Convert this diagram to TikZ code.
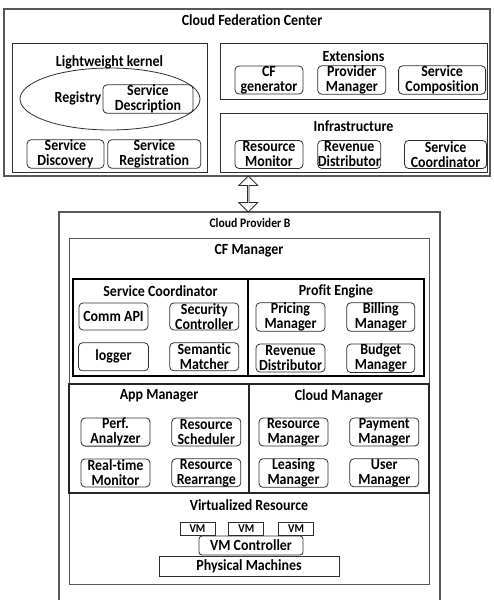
\documentclass[tikz,border=0pt]{standalone}
\usepackage{fontspec}
\setmainfont{Carlito}[FakeStretch=0.9, Ligatures=NoCommon]
\usepackage{xcolor}
\usetikzlibrary{positioning,calc,shapes.geometric,shapes.arrows}
\definecolor{framegray}{RGB}{88,88,88}
\definecolor{unitline}{RGB}{45,45,45}

\begin{document}
\begin{tikzpicture}[
    x=1pt, y=-1pt,
    font=\fontsize{15.5}{15}\selectfont\bfseries,
    frame/.style={draw=framegray, line width=1.1pt, inner sep=0pt},
    panel/.style={draw=unitline, line width=0.8pt, inner sep=0pt},
    heavy/.style={draw=black, line width=2pt, inner sep=0pt},
    split/.style={draw=black!85, line width=1.4pt, inner sep=0pt},
    unit/.style={draw=unitline, rounded corners=4pt, line width=0.8pt,
      align=center, inner sep=0pt, minimum height=28pt},
    plain/.style={draw=unitline, line width=0.8pt, align=center, inner sep=0pt},
    title/.style={inner sep=0pt, align=center}
  ]
    \useasboundingbox (0,0) rectangle (493,600);

    % cloud federation center
    \node[frame, minimum width=486pt, minimum height=167pt] (cfc) at (247,92.5) {};
    \node[title] (cfctitle) at (252,20) {Cloud Federation Center};

    \node[panel, minimum width=195pt, minimum height=129pt] (kernel) at (109.5,107.5) {};
    \node[title] (kerneltitle) at (109.5,62) {Lightweight kernel};
    \node[draw=unitline, line width=0.8pt, ellipse, minimum width=180pt, minimum height=62pt] (registry) at (110,99) {};
    \node[title] (registrytitle) at (78,98) {Registry};
    \node[unit, minimum width=90pt] (servdesc) at (148,99) {Service\\Description};
    \node[unit, minimum width=77pt] (servdisc) at (65.5,154) {Service\\Discovery};
    \node[unit, minimum width=93pt, right=3pt of servdisc] (servreg) {Service\\Registration};

    \node[panel, minimum width=267pt, minimum height=56pt] (ext) at (353.5,71) {};
    \node[title] (exttitle) at (353.5,56) {Extensions};
    \node[unit, minimum width=68pt] (cfgen) at (269,80) {CF\\generator};
    \node[unit, minimum width=68pt, right=14pt of cfgen] (provmgr) {Provider\\Manager};
    \node[unit, minimum width=87pt, right=12pt of provmgr] (servcomp) {Service\\Composition};

    \node[panel, minimum width=267pt, minimum height=59pt] (infra) at (353.5,142.5) {};
    \node[title] (infratitle) at (353.5,126) {Infrastructure};
    \node[unit, minimum width=68pt] (resmon) at (269,154.5) {Resource\\Monitor};
    \node[unit, minimum width=60pt, right=14pt of resmon] (revdist) {Revenue\\Distributor};
    \node[unit, minimum width=82pt, right=23pt of revdist] (servcoord) {Service\\Coordinator};

    % cloud provider b
    \node[frame, minimum width=381pt, minimum height=403pt] (cpb) at (249.5,413.5) {};
    \node[title, font=\fontsize{13}{13}\selectfont\bfseries] (cpbtitle) at (250,223) {Cloud Provider B};

    \node[double arrow, draw=unitline, line width=0.8pt, rotate=90, inner sep=0pt,
      minimum height=36pt, minimum width=19pt, double arrow head extend=5pt]
      (link) at ($(cfc.south)!0.5!(cpb.north)$) {};

    \node[frame, line width=0.9pt, minimum width=360pt, minimum height=346pt] (cfm) at (249,411) {};
    \node[title] (cfmtitle) at (249,251) {CF Manager};

    \node[heavy, minimum width=175pt, minimum height=97pt] (sc) at (160.5,327.5) {};
    \node[heavy, minimum width=176pt, minimum height=97pt] (pe) at (336,327.5) {};
    \node[title] (sctitle) at (160.5,291) {Service Coordinator};
    \node[title] (petitle) at (336,291) {Profit Engine};

    \node[unit, minimum width=69pt, minimum height=27pt] (commapi) at (113.5,316.5) {Comm API};
    \node[unit, minimum width=69pt, minimum height=27pt, right=21pt of commapi] (secctrl) {Security\\Controller};
    \node[unit, minimum width=70pt, below=12pt of commapi] (logger) {logger};
    \node[unit, minimum width=69pt, below=12pt of secctrl] (semmatch) {Semantic\\Matcher};

    \node[unit, minimum width=69pt] (pricing) at (290.5,317) {Pricing\\Manager};
    \node[unit, minimum width=68pt, right=21pt of pricing] (billing) {Billing\\Manager};
    \node[unit, minimum width=69pt, below=12pt of pricing] (revdistb) {Revenue\\Distributor};
    \node[unit, minimum width=68pt, below=12pt of billing] (budget) {Budget\\Manager};

    \node[split, minimum width=180pt, minimum height=109pt] (am) at (159,438.5) {};
    \node[split, minimum width=180pt, minimum height=109pt] (cm) at (339,438.5) {};
    \node[title] (amtitle) at (159,396) {App Manager};
    \node[title] (cmtitle) at (339,396) {Cloud Manager};

    \node[unit, minimum width=69pt] (perf) at (115.5,432) {Perf.\\Analyzer};
    \node[unit, minimum width=69pt, right=21pt of perf] (ressched) {Resource\\Scheduler};
    \node[unit, minimum width=69pt, below=12pt of perf] (realtime) {Real-time\\Monitor};
    \node[unit, minimum width=69pt, below=12pt of ressched] (resrearr) {Resource\\Rearrange};

    \node[unit, minimum width=69pt] (resmgr) at (293.5,432) {Resource\\Manager};
    \node[unit, minimum width=69pt, right=21pt of resmgr] (paymgr) {Payment\\Manager};
    \node[unit, minimum width=69pt, below=12pt of resmgr] (leasing) {Leasing\\Manager};
    \node[unit, minimum width=69pt, below=12pt of paymgr] (usermgr) {User\\Manager};

    % virtualized resource
    \node[title] (vrtitle) at (249,505) {Virtualized Resource};
    \node[plain, minimum width=35pt, minimum height=13pt, font=\fontsize{12}{12}\selectfont\bfseries] (vma) at (197.5,528.5) {VM};
    \node[plain, minimum width=35pt, minimum height=13pt, font=\fontsize{12}{12}\selectfont\bfseries, right=13pt of vma] (vmb) {VM};
    \node[plain, minimum width=35pt, minimum height=13pt, font=\fontsize{12}{12}\selectfont\bfseries, right=14pt of vmb] (vmc) {VM};
    \node[unit, minimum width=104pt, minimum height=19pt, rounded corners=3pt] (vmctrl) at (251,545.5) {VM Controller};
    \node[plain, minimum width=180pt, minimum height=20pt] (phys) at (249,566) {Physical Machines};
  \end{tikzpicture}
\end{document}
